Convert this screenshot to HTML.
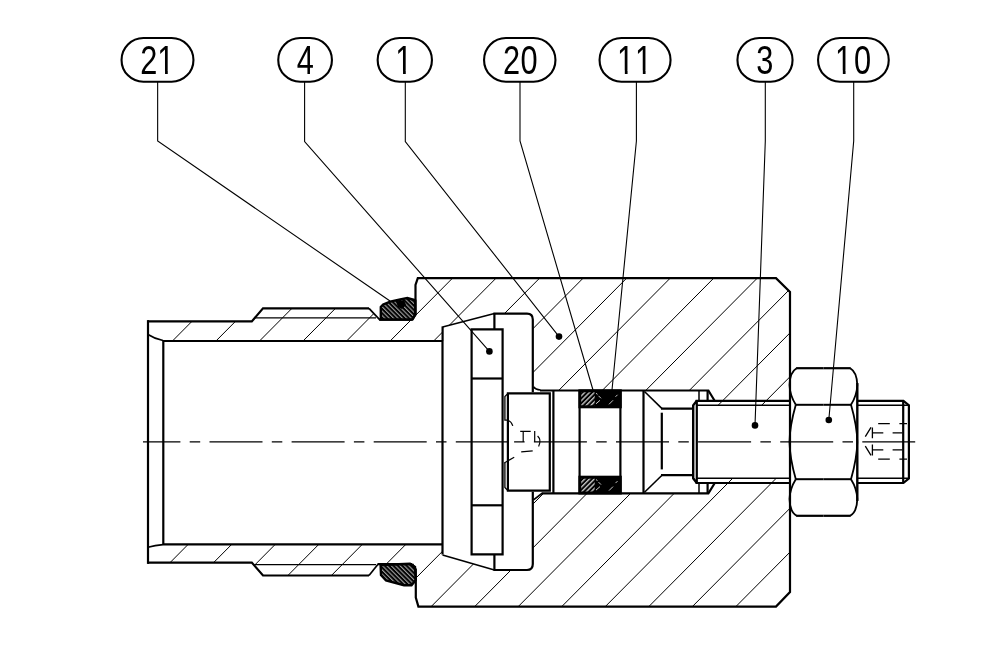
<!DOCTYPE html>
<html><head><meta charset="utf-8"><title>Drawing</title>
<style>
html,body{margin:0;padding:0;background:#fff;}
body{width:1000px;height:646px;overflow:hidden;}
svg{display:block;}
.t{font-family:"Liberation Sans",sans-serif;fill:#000;stroke:none;}
.labels{filter:grayscale(1);}
</style></head>
<body>
<svg width="1000" height="646" viewBox="0 0 1000 646" fill="none" stroke="#000" stroke-linejoin="miter" stroke-linecap="butt">
<rect x="0" y="0" width="1000" height="646" fill="#fff" stroke="none"/>
<clipPath id="hc"><polygon points="148.00,321.40 251.40,321.40 263.00,308.40 368.00,308.40 379.00,319.60 412.30,319.60 415.80,314.30 415.80,285.00 417.80,278.20 776.00,278.20 790.00,292.00 790.00,405.40 716.00,405.40 714.50,400.50 708.40,390.60 540.00,390.60 533.00,386.50 533.00,318.00 531.50,315.00 527.00,313.60 494.40,313.60 442.60,327.00 442.60,341.00 163.00,341.00 148.00,335.00"/><polygon points="148.00,562.60 251.40,562.60 263.00,575.50 368.00,575.50 377.00,564.20 412.30,564.20 415.80,569.50 415.80,597.50 418.40,606.60 776.00,606.60 790.00,592.00 790.00,478.20 716.00,478.20 714.50,483.50 708.40,493.30 542.00,493.30 533.00,500.00 533.00,565.00 531.50,568.50 527.00,570.00 494.40,570.00 442.50,555.50 442.50,544.30 163.00,544.30 148.00,547.30"/></clipPath>
<g clip-path="url(#hc)" stroke-width="1.0">
<line x1="-104.60" y1="620" x2="252.88" y2="260"/>
<line x1="-61.07" y1="620" x2="296.41" y2="260"/>
<line x1="-17.53" y1="620" x2="339.95" y2="260"/>
<line x1="26.00" y1="620" x2="383.48" y2="260"/>
<line x1="69.54" y1="620" x2="427.02" y2="260"/>
<line x1="113.07" y1="620" x2="470.55" y2="260"/>
<line x1="156.61" y1="620" x2="514.09" y2="260"/>
<line x1="200.14" y1="620" x2="557.62" y2="260"/>
<line x1="243.68" y1="620" x2="601.16" y2="260"/>
<line x1="287.21" y1="620" x2="644.69" y2="260"/>
<line x1="330.75" y1="620" x2="688.23" y2="260"/>
<line x1="374.28" y1="620" x2="731.76" y2="260"/>
<line x1="417.82" y1="620" x2="775.30" y2="260"/>
<line x1="461.35" y1="620" x2="818.83" y2="260"/>
<line x1="504.89" y1="620" x2="862.37" y2="260"/>
<line x1="548.42" y1="620" x2="905.90" y2="260"/>
<line x1="591.96" y1="620" x2="949.44" y2="260"/>
<line x1="635.49" y1="620" x2="992.97" y2="260"/>
<line x1="679.03" y1="620" x2="1036.51" y2="260"/>
<line x1="722.56" y1="620" x2="1080.04" y2="260"/>
<line x1="766.10" y1="620" x2="1123.58" y2="260"/>
<line x1="809.63" y1="620" x2="1167.11" y2="260"/>
<line x1="853.17" y1="620" x2="1210.65" y2="260"/>
<line x1="896.70" y1="620" x2="1254.18" y2="260"/>
</g>
<pattern id="sp" width="3.1" height="3.1" patternUnits="userSpaceOnUse" patternTransform="rotate(-45)">
<rect width="3.1" height="3.1" fill="#000" stroke="none"/><rect x="0" y="0" width="1.15" height="3.1" fill="#999" stroke="none"/></pattern>
<pattern id="sp2" width="3.4" height="3.4" patternUnits="userSpaceOnUse" patternTransform="rotate(45)">
<rect width="3.4" height="3.4" fill="#000" stroke="none"/><rect x="0" y="0" width="1.4" height="3.4" fill="#c4c4c4" stroke="none"/></pattern>
<polygon points="380.80,319.60 380.80,307.00 383.20,304.40 390.20,301.60 400.20,299.40 407.30,298.10 414.30,300.00 415.30,300.50 415.30,314.70 412.30,319.60" fill="url(#sp)" stroke-width="2.4"/>
<path d="M396,301.5 L404,300 L406,305 L402,309 L398,307 Z" fill="#000" stroke="none"/>
<polygon points="380.60,565.00 410.00,563.80 415.00,567.00 415.80,580.00 411.50,585.20 404.00,585.20 386.00,580.50 381.00,575.00" fill="url(#sp)" stroke-width="2.4"/>
<rect x="579.4" y="390.3" width="41.4" height="17.0" fill="#000" stroke-width="2"/>
<rect x="581.2" y="392.3" width="13.5" height="13.0" fill="url(#sp2)" stroke="none"/>
<path d="M596,403.8 L600,400.3 M609,404.3 L613,400.3 M615.5,396.8 L617.5,394.8 M598.5,395.8 L601,398.3 M596,393.3 L597.5,394.3" stroke="#c8c8c8" stroke-width="1"/>
<rect x="579.4" y="476.7" width="41.4" height="16.80000000000001" fill="#000" stroke-width="2"/>
<rect x="581.2" y="478.7" width="13.5" height="12.800000000000011" fill="url(#sp2)" stroke="none"/>
<path d="M596,490.1 L600,486.6 M609,490.6 L613,486.6 M615.5,483.1 L617.5,481.1 M598.5,482.1 L601,484.6 M596,479.6 L597.5,480.6" stroke="#c8c8c8" stroke-width="1"/>
<path d="M148.00,320.10 L148.00,563.90" stroke-width="2.2" />
<path d="M163.30,340.00 L163.30,545.00" stroke-width="2.2" />
<path d="M148.00,321.40 L251.80,321.40 L263.00,308.40 L369.00,308.40" stroke-width="2.2" />
<path d="M369.00,308.40 L379.60,319.60" stroke-width="1.7" />
<path d="M379.00,319.60 L412.30,319.60" stroke-width="2.2" />
<path d="M148.00,562.60 L251.80,562.60 L263.00,575.50 L369.00,575.50" stroke-width="2.2" />
<path d="M369.00,575.50 L378.00,564.20" stroke-width="1.7" />
<path d="M377.50,564.20 L412.30,564.20" stroke-width="2.2" />
<path d="M254.50,317.80 L376.00,317.80" stroke-width="1.2" />
<path d="M254.50,564.60 L376.00,564.60" stroke-width="1.2" />
<path d="M163.00,341.00 L442.60,341.00" stroke-width="2.2" />
<path d="M163.00,544.30 L442.50,544.30" stroke-width="2.2" />
<path d="M148,334.5 Q155,339 163,340.5" stroke-width="1.6"/>
<path d="M148,547.3 Q155,545.2 163,544.6" stroke-width="1.6"/>
<path d="M412.30,319.60 L415.50,314.50 L415.50,285.00 L417.80,278.20 L776.00,278.20 L790.00,292.00 L790.00,592.00 L776.00,606.60 L418.40,606.60 L415.80,597.50 L415.80,569.50 L412.30,564.20" stroke-width="2.2" />
<path d="M442.6,341 L442.6,326.4" stroke-width="2.2"/>
<path d="M442.6,327 L494.4,313.6" stroke-width="1.5"/>
<path d="M493.4,313.6 L527,313.6 Q532.8,313.6 532.8,319.5 L532.8,392.2" stroke-width="2.2"/>
<path d="M442.5,341 L442.5,554.5" stroke-width="2.2"/>
<path d="M442.5,555 L494.4,570" stroke-width="1.5"/>
<path d="M493.4,570 L527,570 Q532.8,570 532.8,564 L532.8,491.7" stroke-width="2.2"/>
<path d="M540,390.5 L708.4,390.5 L714.5,400.5" stroke-width="2.2"/>
<path d="M542,493.3 L708.4,493.3 L714.5,483.5" stroke-width="2.2"/>
<path d="M533.5,386.8 Q535.5,389.6 540.5,390" stroke-width="1.5"/>
<path d="M533.5,499.9 L542.5,493" stroke-width="1.7"/>
<path d="M494.40,313.60 L494.40,329.40" stroke-width="2.2" />
<path d="M494.40,554.30 L494.40,570.00" stroke-width="2.2" />
<path d="M471.60,329.40 L502.60,329.40 L502.60,554.30 L471.60,554.30 Z" stroke-width="2.2" />
<path d="M471.60,378.50 L502.60,378.50" stroke-width="2.2" />
<path d="M471.60,505.30 L502.60,505.30" stroke-width="2.2" />
<path d="M507.90,393.40 L549.80,393.40 L549.80,490.70 L507.90,490.70 Z" stroke-width="2.2" />
<path d="M508.00,393.40 L504.90,396.60 L504.90,420.20 L508.00,420.20" stroke-width="1.3" />
<path d="M508.00,490.70 L504.90,487.40 L504.90,463.00" stroke-width="1.3" />
<path d="M553.40,390.50 L553.40,493.30" stroke-width="2.2" />
<path d="M579.60,390.50 L579.60,493.30" stroke-width="2.2" />
<path d="M620.40,390.50 L620.40,493.30" stroke-width="2.2" />
<path d="M643.50,390.50 L643.50,493.30" stroke-width="2.2" />
<path d="M508,420.2 Q511.5,421.5 512.8,425.8" stroke-width="1.2"/>
<path d="M504.2,463 L514.2,457.2" stroke-width="1.2"/>
<path d="M520.2,431.4 L530.7,431.4 M523.2,431.4 L523.2,442" stroke-width="1.2"/>
<path d="M534.7,431 L534.7,442 M537.6,436 Q541.8,440 538.6,446.6" stroke-width="1.2"/>
<path d="M521.2,451.8 L532.7,450.8" stroke-width="1.2"/>
<path d="M644.50,391.50 L662.00,408.60" stroke-width="1.6" />
<path d="M644.50,492.30 L662.00,475.20" stroke-width="1.6" />
<path d="M661.00,408.60 L693.20,408.60" stroke-width="2.2" />
<path d="M661.00,475.20 L693.20,475.20" stroke-width="2.2" />
<path d="M696.80,400.80 L693.20,405.30 L693.20,478.30 L696.80,483.00" stroke-width="2.4" />
<path d="M661.80,412.70 L661.80,469.40" stroke-width="2.2" />
<path d="M699.00,390.50 L699.00,401.00" stroke-width="1.5" />
<path d="M699.00,493.30 L699.00,483.00" stroke-width="1.5" />
<path d="M707.60,390.50 L707.60,401.00" stroke-width="2.2" />
<path d="M707.60,493.30 L707.60,483.00" stroke-width="2.2" />
<path d="M695.60,400.80 L790.00,400.80" stroke-width="2.2" />
<path d="M695.60,483.00 L790.00,483.00" stroke-width="2.2" />
<path d="M858.00,400.80 L903.40,400.80 L908.90,405.20 L908.90,478.40 L903.40,483.00 L858.00,483.00" stroke-width="2.2" />
<path d="M696.00,405.30 L790.00,405.30" stroke-width="1.5" />
<path d="M858.00,405.30 L908.90,405.30" stroke-width="1.5" />
<path d="M696.00,478.30 L790.00,478.30" stroke-width="1.5" />
<path d="M858.00,478.30 L908.90,478.30" stroke-width="1.5" />
<path d="M903.20,400.80 L903.20,483.00" stroke-width="2.2" />
<path d="M696.80,400.80 L696.80,483.00" stroke-width="2.2" />
<path d="M878.2,423.7 L889.8,423.7 M899.4,423.7 L907,423.7" stroke-width="1.3"/>
<path d="M878.2,459.10 L889.8,459.10 M899.4,459.10 L907,459.10" stroke-width="1.3"/>
<path d="M872.4,432.85 L883.3,432.85 M892.6,432.85 L902.4,432.85" stroke-width="1.3"/>
<path d="M872.4,449.95 L883.3,449.95 M892.6,449.95 L902.4,449.95" stroke-width="1.3"/>
<path d="M865.3,436.6 L871,427.4 M872.4,427.4 L872.4,438.3" stroke-width="1.3"/>
<path d="M865.3,446.20 L871,455.40 M872.4,455.40 L872.4,444.50" stroke-width="1.3"/>
<path d="M823.4,368.2 L850.7,368.2" stroke-width="2.2"/>
<path d="M823.4,515.80 L850.7,515.80" stroke-width="2.2"/>
<path d="M823.40,368.2 L796.10,368.2" stroke-width="2.2"/>
<path d="M823.40,515.80 L796.10,515.80" stroke-width="2.2"/>
<path d="M823.4,404.8 L851,404.8" stroke-width="2.0"/>
<path d="M823.4,479.20 L851,479.20" stroke-width="2.0"/>
<path d="M823.40,404.8 L795.80,404.8" stroke-width="2.0"/>
<path d="M823.40,479.20 L795.80,479.20" stroke-width="2.0"/>
<path d="M850.2,368.2 C854.2,370.5 857.1,377 857.3,385 C857.1,392 854.6,399 851,404.8" stroke-width="1.8"/>
<path d="M850.2,515.80 C854.2,513.50 857.1,507.00 857.3,499.00 C857.1,492.00 854.6,485.00 851,479.20" stroke-width="1.8"/>
<path d="M796.60,368.2 C792.60,370.5 789.70,377 789.50,385 C789.70,392 792.20,399 795.80,404.8" stroke-width="1.8"/>
<path d="M796.60,515.80 C792.60,513.50 789.70,507.00 789.50,499.00 C789.70,492.00 792.20,485.00 795.80,479.20" stroke-width="1.8"/>
<path d="M851,404.8 C854.2,416 857.1,430 857.3,442" stroke-width="1.8"/>
<path d="M851,479.20 C854.2,468.00 857.1,454.00 857.3,442.00" stroke-width="1.8"/>
<path d="M795.80,404.8 C792.60,416 789.70,430 789.50,442" stroke-width="1.8"/>
<path d="M795.80,479.20 C792.60,468.00 789.70,454.00 789.50,442.00" stroke-width="1.8"/>
<path d="M857.30,383.00 L857.30,501.00" stroke-width="2.4" />
<line x1="143" y1="441.8" x2="508.8" y2="441.8" stroke-width="1.3" stroke-dasharray="53 9.3 10.5 9.3" stroke-dashoffset="15.6"/>
<line x1="514.1" y1="441.8" x2="915.2" y2="441.8" stroke-width="1.3" stroke-dasharray="10.5 9.3 53 9.3"/>
<rect x="121.55" y="38.05" width="71.90" height="43.70" rx="21.85" ry="21.85" stroke-width="2.1"/>
<path d="M157.65,81.80 L157.65,141.00 L390.00,301.00" stroke-width="1.1" />
<rect x="278.25" y="38.05" width="53.70" height="43.70" rx="21.85" ry="21.85" stroke-width="2.1"/>
<path d="M304.60,81.80 L304.60,141.50 L489.40,351.40" stroke-width="1.1" />
<circle cx="489.4" cy="351.4" r="3.3" fill="#000" stroke="none"/>
<rect x="377.65" y="38.05" width="54.30" height="43.70" rx="21.85" ry="21.85" stroke-width="2.1"/>
<path d="M405.30,81.80 L405.30,141.50 L559.00,336.60" stroke-width="1.1" />
<circle cx="559" cy="336.6" r="3.3" fill="#000" stroke="none"/>
<rect x="484.05" y="38.05" width="71.40" height="43.70" rx="21.85" ry="21.85" stroke-width="2.1"/>
<path d="M520.00,81.80 L520.00,141.00 L593.00,390.00" stroke-width="1.1" />
<rect x="599.55" y="38.05" width="71.00" height="43.70" rx="21.85" ry="21.85" stroke-width="2.1"/>
<path d="M636.40,81.80 L636.40,141.00 L612.00,390.00" stroke-width="1.1" />
<rect x="737.45" y="38.05" width="55.10" height="43.70" rx="21.85" ry="21.85" stroke-width="2.1"/>
<path d="M765.30,81.80 L765.30,141.00 L755.00,425.40" stroke-width="1.1" />
<circle cx="755" cy="425.4" r="3.3" fill="#000" stroke="none"/>
<rect x="818.05" y="38.05" width="70.70" height="43.70" rx="21.85" ry="21.85" stroke-width="2.1"/>
<path d="M853.70,81.80 L853.70,141.00 L828.80,420.00" stroke-width="1.1" />
<circle cx="828.8" cy="420" r="3.3" fill="#000" stroke="none"/>
<g class="labels">
<text transform="scale(0.75,1)" x="186.93 209.74" y="74.3" font-size="41.0" class="t">21</text>
<text transform="scale(0.75,1)" x="395.66" y="74.3" font-size="41.0" class="t">4</text>
<text transform="scale(0.75,1)" x="527.08" y="74.3" font-size="41.0" class="t">1</text>
<text transform="scale(0.75,1)" x="670.60 693.93" y="74.3" font-size="41.0" class="t">20</text>
<text transform="scale(0.75,1)" x="822.81 846.81" y="74.3" font-size="41.0" class="t">11</text>
<text transform="scale(0.75,1)" x="1008.45" y="74.3" font-size="41.0" class="t">3</text>
<text transform="scale(0.75,1)" x="1113.48 1138.60" y="74.3" font-size="41.0" class="t">10</text>
</g>
<rect x="158.65" y="70.64" width="6.39" height="4.5" fill="#fff" stroke="none"/>
<rect x="167.76" y="70.64" width="6.15" height="4.5" fill="#fff" stroke="none"/>
<rect x="396.65" y="70.64" width="6.39" height="4.5" fill="#fff" stroke="none"/>
<rect x="405.76" y="70.64" width="6.15" height="4.5" fill="#fff" stroke="none"/>
<rect x="618.45" y="70.64" width="6.39" height="4.5" fill="#fff" stroke="none"/>
<rect x="627.56" y="70.64" width="6.15" height="4.5" fill="#fff" stroke="none"/>
<rect x="636.45" y="70.64" width="6.39" height="4.5" fill="#fff" stroke="none"/>
<rect x="645.56" y="70.64" width="6.15" height="4.5" fill="#fff" stroke="none"/>
<rect x="836.45" y="70.64" width="6.39" height="4.5" fill="#fff" stroke="none"/>
<rect x="845.56" y="70.64" width="6.15" height="4.5" fill="#fff" stroke="none"/>
</svg>
</body></html>
